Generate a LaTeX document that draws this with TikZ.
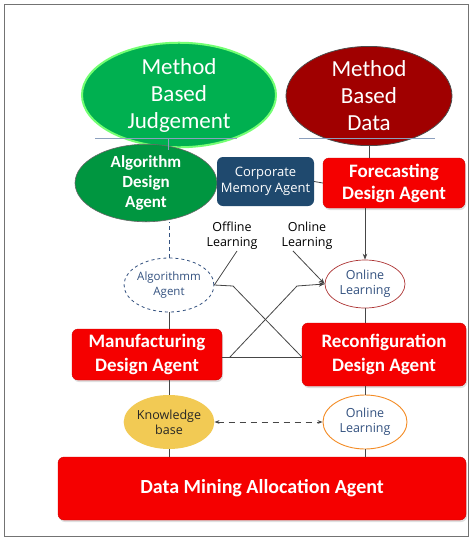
\documentclass[tikz,border=0pt]{standalone}
\usepackage{fontspec}
\setmainfont{Carlito}
\newfontfamily\labelfont{Open Sans}
\usetikzlibrary{shapes.geometric,arrows.meta,shadows}
\definecolor{judgegreen}{RGB}{0,176,80}
\definecolor{algogreen}{RGB}{0,150,64}
\definecolor{datared}{RGB}{160,0,0}
\definecolor{agentred}{RGB}{245,0,0}
\definecolor{corpblue}{RGB}{31,73,110}
\definecolor{kbyellow}{RGB}{242,202,84}
\definecolor{learnblue}{RGB}{52,82,128}
\definecolor{linegray}{RGB}{70,70,70}
\definecolor{rulecol}{RGB}{140,160,190}
\def\fs#1#2{\fontsize{#1}{#2}\selectfont}
\tikzset{
	agent/.style={rectangle, rounded corners=6pt, fill=agentred, draw=agentred!85!black, text=white, align=center, inner sep=0pt, font=\bfseries\fs{19}{24}, drop shadow={opacity=0.25, shadow xshift=1pt, shadow yshift=-2pt}},
	method/.style={ellipse, inner sep=0pt, text=white, align=center, font=\fs{23}{27}},
	learn/.style={ellipse, inner sep=0pt, align=center, fill=white, text=learnblue, font=\labelfont\fs{12.5}{15}},
	link/.style={draw=linegray, line width=0.8pt}
}

\begin{document}
\begin{tikzpicture}[x=1pt,y=-1pt]
			%%%%% START %%%%%
			\useasboundingbox (0,0) rectangle (474,542);
			\fill[white] (0,0) rectangle (474,542);
			\draw[black!55, line width=1pt] (4,4) rectangle (468,536);
			
			\node[method, fill=judgegreen, draw=green!55, line width=2pt, minimum width=194pt, minimum height=92pt] (judge) at (179,95) {Method\\Based\\Judgement};
			\node[method, fill=datared, draw=black!70, line width=0.8pt, minimum width=166pt, minimum height=94pt] (data) at (369,96) {Method\\Based\\Data};
			
			\draw[rulecol, line width=1pt] (95,138) -- (237,138);
			\draw[rulecol, line width=1pt] (299,138) -- (435,138);
			\coordinate (jrule) at (168,138);
			
			\node[ellipse, inner sep=0pt, fill=algogreen, draw=black!60, line width=0.6pt, text=white, align=center, font=\bfseries\fs{17}{20}, minimum width=142pt, minimum height=66pt] (algo) at (146,183) {Algorithm\\Design\\Agent};
			\node[rectangle, rounded corners=6pt, fill=corpblue, text=white, align=center, inner sep=0pt, font=\labelfont\fs{13}{16}, minimum width=97pt, minimum height=49pt] (corp) at (265.5,181.5) {Corporate\\Memory Agent};
			\node[agent, font=\bfseries\fs{19}{22}, minimum width=142pt, minimum height=50pt] (fore) at (394,183) {Forecasting\\Design Agent};
			
			\draw[rulecol, line width=0.8pt] (jrule) -- ++(0,12);
			\draw[link] (corp.east) -- (fore.west);
			\draw[link] (data.south) -- (data.south |- fore.north);
			
			\node[learn, draw=learnblue, dashed, line width=0.8pt, font=\labelfont\fs{11.5}{15}, minimum width=76pt, minimum height=54pt] (algagent) at (169,285) {Algorithmm\\Agent};
			\node[learn, draw=red!60!black!80, line width=0.7pt, minimum width=80pt, minimum height=48pt] (onlineA) at (365,284) {Online\\Learning};
			\node[align=center, font=\labelfont\fs{12.5}{15}, inner sep=1pt] (offtxt) at (232,236) {Offline\\Learning};
			\node[align=center, font=\labelfont\fs{12.5}{15}, inner sep=1pt] (ontxt) at (307,236) {Online\\Learning};
			
			\draw[learnblue, dashed, dash pattern=on 4pt off 3pt, line width=0.8pt] (algagent.north) -- (algagent.north |- algo.south);
			\draw[link, -{Stealth[length=6pt]}] (onlineA.north |- fore.south) -- (onlineA.north);
			
			\node[agent, minimum width=150pt, minimum height=51pt] (manu) at (147,354.5) {Manufacturing\\Design Agent};
			\node[agent, minimum width=164pt, minimum height=63pt] (reconf) at (384,354.5) {Reconfiguration\\Design Agent};
			
			\coordinate (xa) at (233,286);
			\coordinate (xb) at (230,357);
			\coordinate (xc) at (297,286);
			\draw[link] (offtxt.south) ++(5,0) -- (algagent.east);
			\draw[link] (algagent.east) -- (xa) -- (reconf.west |- xb);
			\draw[link] (manu.east |- xb) -- (reconf.west |- xb);
			\draw[link, -{Stealth[length=6pt]}] (xb) -- (xc) -- (onlineA.west);
			\draw[link, -{Stealth[length=6pt]}] (ontxt.south) ++(-14,0) -- (onlineA.west);
			
			\draw[link] (algagent.south) -- (algagent.south |- manu.north);
			\draw[link] (onlineA.south) -- (onlineA.south |- reconf.north);
			
			\node[learn, fill=kbyellow, text=black!85, minimum width=86pt, minimum height=54pt] (kb) at (169,422) {Knowledge\\base};
			\node[learn, draw=orange!80!brown!90, line width=0.9pt, minimum width=84pt, minimum height=54pt] (onlineB) at (365,422) {Online\\Learning};
			\draw[link, dashed, dash pattern=on 6pt off 5pt, {Stealth[length=5pt]}-{Stealth[length=5pt]}] (kb.east) -- (onlineB.west);
			
			\node[agent, font=\bfseries\fs{20}{24}, minimum width=408pt, minimum height=63pt] (dm) at (262,488.5) {Data Mining Allocation Agent};
			
			\draw[link] (kb.north |- manu.south) -- (kb.north);
			\draw[link] (kb.south) -- (kb.south |- dm.north);
			\draw[link] (onlineB.north |- reconf.south) -- (onlineB.north);
			\draw[link] (onlineB.south) -- (onlineB.south |- dm.north);
			%%%%% END %%%%%
\end{tikzpicture}
\end{document}
